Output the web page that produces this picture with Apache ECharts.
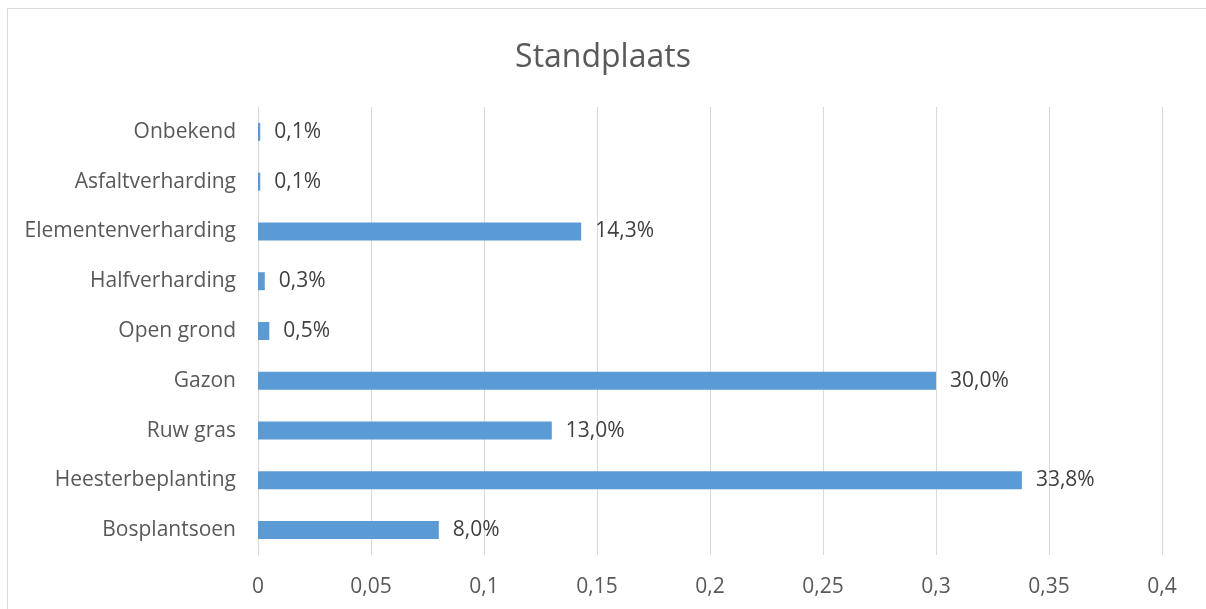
<!DOCTYPE html>
<html>
<head>
<meta charset="utf-8">
<script src="https://cdn.jsdelivr.net/npm/echarts@6/dist/echarts.min.js"></script>
<style>html,body{margin:0;padding:0;background:#fff;}#c{width:1206px;height:609px;}</style>
</head>
<body>
<div id="c"></div>
<script>
const categories = ['Bosplantsoen','Heesterbeplanting','Ruw gras','Gazon','Open grond','Halfverharding','Elementenverharding','Asfaltverharding','Onbekend'];
const values = [0.080, 0.338, 0.130, 0.300, 0.005, 0.003, 0.143, 0.001, 0.001];
const titleText = 'Standplaats';

const FONT = 'Open Sans';
const chart = echarts.init(document.getElementById('c'));
const fmtComma = v => String(v).replace('.', ',');
chart.setOption({
  animation: false,
  backgroundColor: '#fff',
  textStyle: { fontFamily: FONT },
  title: {
    text: titleText, left: 'center', top: 37,
    textStyle: { fontFamily: FONT, fontSize: 32, fontWeight: 'normal', color: '#595959' }
  },
  graphic: [{
    type: 'rect', shape: { x: 7.5, y: 8.5, width: 1300, height: 700 },
    style: { fill: 'none', stroke: '#d9d9d9', lineWidth: 1 }, silent: true
  }],
  grid: { left: 258, right: 44, top: 107, bottom: 54, containLabel: false },
  xAxis: {
    type: 'value', min: 0, max: 0.4, interval: 0.05,
    axisLine: { show: false }, axisTick: { show: false },
    splitLine: { show: true, lineStyle: { color: '#d9d9d9', width: 1 } },
    axisLabel: { formatter: v => fmtComma(+v.toFixed(2)), fontFamily: FONT, fontSize: 21, color: '#595959', margin: 22 }
  },
  yAxis: {
    type: 'category', data: categories,
    axisLine: { show: true, lineStyle: { color: '#d9d9d9' } }, axisTick: { show: false },
    splitLine: { show: false },
    axisLabel: { fontFamily: FONT, fontSize: 21, color: '#595959', margin: 22, padding: [3, 0, 0, 0] }
  },
  series: [{
    type: 'bar', data: values, barWidth: 18,
    itemStyle: { color: '#5b9bd5' },
    label: {
      show: true, position: 'right', distance: 14, padding: [3, 0, 0, 0],
      formatter: p => (p.value * 100).toFixed(1).replace('.', ',') + '%',
      fontFamily: FONT, fontSize: 21, color: '#404040'
    }
  }]
});
</script>
</body>
</html>
